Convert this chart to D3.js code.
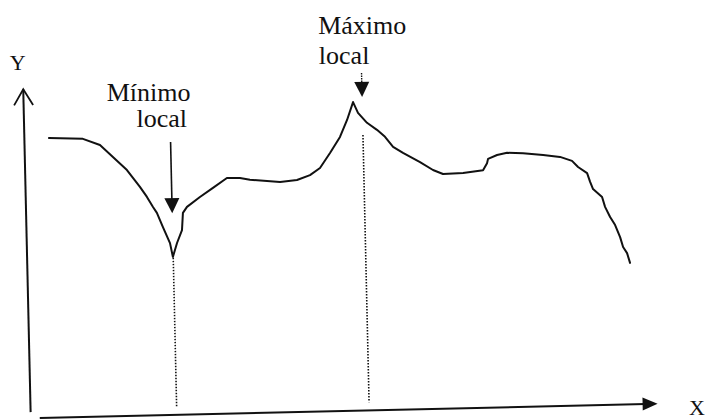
<!DOCTYPE html>
<html>
<head>
<meta charset="utf-8">
<script src="https://cdn.jsdelivr.net/npm/d3@7"></script>
</head>
<body style="margin:0">
<svg id="chart" width="707" height="419"></svg>
<script>
// Curve y = f(x), sampled along the sketch (both axes 0..100)
const curveX = [3.92, 9.33, 12.03, 14.05, 16.24, 18.25, 19.33, 20.26, 20.86, 21.77,
  22.84, 23.25, 23.96, 24.80, 25.01, 25.68, 27.78, 29.89, 32.15, 34.23,
  35.82, 40.61, 43.32, 45.41, 47.03, 48.68, 50.33, 51.52, 52.54, 53.29,
  54.69, 56.25, 57.51, 58.76, 60.32, 63.00, 65.04, 66.62, 69.83, 73.02,
  73.68, 73.86, 75.31, 76.91, 79.46, 82.65, 85.34, 87.24, 88.18, 89.60,
  90.05, 90.49, 91.90, 92.34, 93.11, 93.88, 94.63, 95.07, 95.68, 96.12];
const curveY = [85.0, 84.5, 82.5, 78.8, 74.7, 69.5, 66.4, 63.3, 61.5, 57.1,
  52.2, 48.0, 52.2, 56.1, 61.3, 63.1, 66.0, 68.7, 71.6, 71.5,
  70.9, 70.0, 70.5, 71.9, 74.0, 78.5, 83.3, 88.4, 93.8, 90.5,
  87.4, 85.2, 83.0, 79.9, 78.0, 75.1, 72.6, 71.3, 71.5, 72.2,
  74.3, 75.6, 76.7, 77.3, 77.1, 76.4, 75.7, 74.4, 72.5, 70.6,
  67.9, 65.7, 63.2, 60.2, 57.1, 54.6, 50.9, 47.9, 46.0, 43.0];

// Annotated extrema: label lines, x position, dotted drop line and arrow extents
const extremaNames = [["Mínimo", "local"], ["Máximo", "local"]];
const extremaX = [23.3, 54.0];
const dropTop = [47.7, 83.7];
const dropBottom = [2.3, 2.5];
const arrowStart = [82.9, 102.6];
const arrowEnd = [61.3, 95.3];

const axisNames = ["X", "Y"];

// ---- layout ----
const W = 707, H = 419;
const svg = d3.select("#chart");
svg.append("rect").attr("width", W).attr("height", H).attr("fill", "#fff");

const x = d3.scaleLinear().domain([0, 100]).range([27, 654]);
const y = d3.scaleLinear().domain([0, 100]).range([411, 82]);

// the drawing sits slightly tilted on the page
const tilt = -1.31, cx = 340, cy = 250;
const g = svg.append("g").attr("transform", `rotate(${tilt}, ${cx}, ${cy})`);
// same tilt applied by hand to text anchor points (text itself stays upright)
const rad = tilt * Math.PI / 180;
function tilted(px, py) {
  const dx = px - cx, dy = py - cy;
  return [cx + dx * Math.cos(rad) - dy * Math.sin(rad),
          cy + dx * Math.sin(rad) + dy * Math.cos(rad)];
}
const textLayer = svg.append("g");
function label(t, px, py, size, anchor) {
  const [sx, sy] = tilted(px, py);
  textLayer.append("text").text(t)
    .attr("x", sx).attr("y", sy)
    .attr("text-anchor", anchor)
    .attr("font-size", size)
    .style("font-family", '"Times New Roman"')
    .style("fill", "#111");
}

const ink = "#111";

// Y axis with open arrow head
g.append("line")
  .attr("x1", x(0)).attr("y1", y(0) - 6)
  .attr("x2", x(0)).attr("y2", y(100))
  .attr("stroke", ink).attr("stroke-width", 2);
g.append("path")
  .attr("d", `M${x(0) - 9.5},${y(100) + 16} L${x(0)},${y(100)} L${x(0) + 9.5},${y(100) + 16}`)
  .attr("fill", "none").attr("stroke", ink).attr("stroke-width", 1.8);

// X axis with filled arrow head
g.append("line")
  .attr("x1", x(0) + 9).attr("y1", y(0))
  .attr("x2", x(100) - 12).attr("y2", y(0))
  .attr("stroke", ink).attr("stroke-width", 2);
g.append("path")
  .attr("d", `M${x(100) - 15},${y(0) - 6.5} L${x(100)},${y(0)} L${x(100) - 15},${y(0) + 6.5} Z`)
  .attr("fill", ink);

// axis names
label(axisNames[1], x(0) - 5, y(100) - 19, 22, "middle");
label(axisNames[0], x(100) + 39, y(0) + 12, 22, "middle");

// the curve
const pts = d3.zip(curveX, curveY);
g.append("path")
  .datum(pts)
  .attr("d", d3.line().x(d => x(d[0])).y(d => y(d[1])).curve(d3.curveLinear))
  .attr("fill", "none").attr("stroke", ink)
  .attr("stroke-width", 2).attr("stroke-linejoin", "round").attr("stroke-linecap", "round");

// dotted drop lines down to the X axis
extremaX.forEach((ex, i) => {
  g.append("line")
    .attr("x1", x(ex)).attr("y1", y(dropTop[i]))
    .attr("x2", x(ex)).attr("y2", y(dropBottom[i]))
    .attr("stroke", ink).attr("stroke-width", 1.6)
    .attr("stroke-dasharray", "1.4,1.6");
});

// arrows pointing at each extremum
extremaX.forEach((ex, i) => {
  const ax = x(ex), y0 = y(arrowStart[i]), y1 = y(arrowEnd[i]);
  const head = 15, half = 7.5;
  g.append("line")
    .attr("x1", ax).attr("y1", y0)
    .attr("x2", ax).attr("y2", y1 - head + 1)
    .attr("stroke", ink).attr("stroke-width", i === 0 ? 1.6 : 1.4)
    .attr("stroke-dasharray", i === 0 ? null : "1.5,1");
  g.append("path")
    .attr("d", `M${ax - half},${y1 - head} L${ax + half},${y1 - head} L${ax},${y1} Z`)
    .attr("fill", ink);
});

// labels above the arrows: [dx, dy] of each line relative to the arrow top, plus anchor
const labelLayout = [
  { anchor: "middle", lines: [[-21, -41.5], [-8.4, -15.2]] },
  { anchor: "start",  lines: [[-42.5, -40], [-42.5, -9.4]] }
];
extremaNames.forEach((lines, i) => {
  const ax = x(extremaX[i]), ay = y(arrowStart[i]);
  lines.forEach((t, j) => {
    const [dx, dy] = labelLayout[i].lines[j];
    label(t, ax + dx, ay + dy, 26, labelLayout[i].anchor);
  });
});
</script>
</body>
</html>
